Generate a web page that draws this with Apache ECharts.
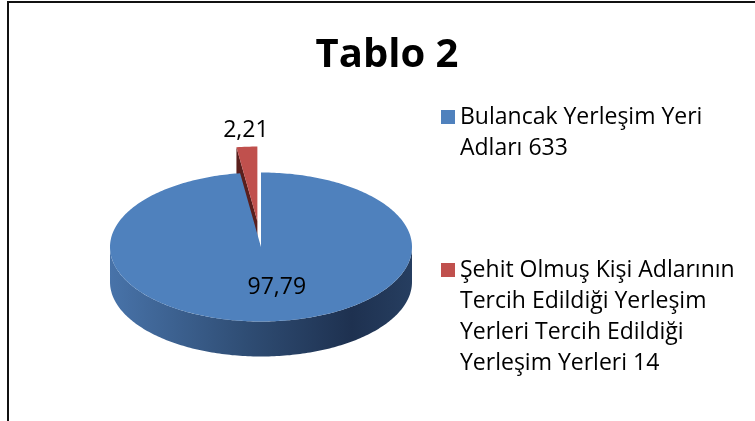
<!DOCTYPE html>
<html lang="tr">
<head>
    <meta charset="UTF-8">
    <title>Tablo 2</title>
    <style>
        body {
            padding: 0;
            margin: 0;
            background-color: #FFFFFF;
            overflow: hidden;
        }
        #main_chart {
            width: 755px;
            height: 421px;
        }
    </style>
</head>
<body>
<div id="main_chart"></div>
<script type="text/javascript" src="https://cdn.jsdelivr.net/npm/echarts@6/dist/echarts.min.js"></script>
<script type="text/javascript">
var categories = [
    'Bulancak Yerleşim Yeri Adları 633',
    'Şehit Olmuş Kişi Adlarının Tercih Edildiği Yerleşim Yerleri Tercih Edildiği Yerleşim Yerleri 14'
];
var legendLines = [
    ['Bulancak Yerleşim Yeri', 'Adları 633'],
    ['Şehit Olmuş Kişi Adlarının', 'Tercih Edildiği Yerleşim', 'Yerleri Tercih Edildiği', 'Yerleşim Yerleri 14']
];
var values = [97.79, 2.21];

// look of the 3d pie
var topColors = ['#4f81bd', '#c0504d'];
var faceColors = ['#2b4a70', '#5a1f1d'];
var explode = [0, 26];
var labelNudge = [[10, 0], [-1, 1]];
var pie = { cx: 261, cy: 247, rx: 151, ry: 74.5, depth: 35 };
var FONT = '"Open Sans", "Noto Sans", sans-serif';

var total = values.reduce(function (s, v) { return s + v; }, 0);
var RAD = Math.PI / 180;

function sliceAngles(i) {
    var before = 0;
    for (var k = 0; k < i; k++) before += values[k];
    var a0 = 90 - 360 * before / total;
    var a1 = 90 - 360 * (before + values[i]) / total;
    return { a0: a0, a1: a1, am: (a0 + a1) / 2 };
}

function wallGradient() {
    return new echarts.graphic.LinearGradient(0, 0, 1, 0, [
        { offset: 0, color: '#4873a9' },
        { offset: 0.45, color: '#2f4d74' },
        { offset: 0.8, color: '#1e3150' },
        { offset: 1, color: '#263e60' }
    ]);
}

function renderSlice(params, api) {
    var i = params.seriesIndex;
    var ang = sliceAngles(i);
    var a0 = ang.a0, a1 = ang.a1, am = ang.am;
    var e = explode[i] / pie.ry;
    var cx = pie.cx + e * pie.rx * Math.cos(am * RAD);
    var cy = pie.cy - e * pie.ry * Math.sin(am * RAD);
    var d = pie.depth;

    function P(a, dy) {
        return [cx + pie.rx * Math.cos(a * RAD), cy - pie.ry * Math.sin(a * RAD) + (dy || 0)];
    }
    function arcAngles(from, to) {
        var n = Math.max(2, Math.ceil(Math.abs(from - to)));
        var out = [];
        for (var s = 0; s <= n; s++) out.push(from + (to - from) * s / n);
        return out;
    }

    var children = [];

    // outer wall, only the part that faces the viewer (angles -180..0)
    for (var k = -2; k <= 1; k++) {
        var lo = Math.max(a1, -180 + 360 * k);
        var hi = Math.min(a0, 0 + 360 * k);
        if (hi - lo > 0.01) {
            var as = arcAngles(hi, lo);
            var pts = as.map(function (a) { return P(a); })
                .concat(as.slice().reverse().map(function (a) { return P(a, d); }));
            children.push({
                type: 'polygon',
                shape: { points: pts },
                style: { fill: i === 0 ? wallGradient() : faceColors[i] }
            });
        }
    }

    // cut faces
    var c = [cx, cy];
    var cd = [cx, cy + d];
    if (Math.cos(a0 * RAD) < -0.001) {
        children.push({
            type: 'polygon',
            shape: { points: [c, P(a0), P(a0, d), cd] },
            style: { fill: faceColors[i] }
        });
    }
    if (Math.cos(a1 * RAD) > 0.001) {
        children.push({
            type: 'polygon',
            shape: { points: [c, P(a1), P(a1, d), cd] },
            style: { fill: faceColors[i] }
        });
    }

    // top face
    var topPts = [c].concat(arcAngles(a0, a1).map(function (a) { return P(a); }));
    children.push({
        type: 'polygon',
        shape: { points: topPts },
        style: { fill: topColors[i] }
    });

    // value label
    var v = api.value(0);
    var lx, ly;
    if (v / total > 0.1) {
        lx = cx + 0.55 * pie.rx * Math.cos(am * RAD);
        ly = cy - 0.55 * pie.ry * Math.sin(am * RAD);
    } else {
        var o = P(am);
        lx = o[0];
        ly = o[1] - 17;
    }
    children.push({
        type: 'text',
        x: lx + labelNudge[i][0],
        y: ly + labelNudge[i][1],
        style: {
            text: v.toFixed(2).replace('.', ','),
            fill: '#000',
            font: '23px ' + FONT,
            align: 'center',
            verticalAlign: 'middle'
        }
    });

    return { type: 'group', children: children };
}

var dom = document.getElementById('main_chart');
var chart = echarts.init(dom);

var option = {
    animation: false,
    title: {
        text: 'Tablo 2',
        left: 387,
        top: 36,
        padding: 0,
        textAlign: 'center',
        textVerticalAlign: 'top',
        textStyle: {
            fontFamily: FONT,
            fontSize: 40,
            fontWeight: 'bold',
            color: '#000'
        }
    },
    graphic: [{
        type: 'rect',
        shape: { x: 8, y: 2, width: 900, height: 600 },
        style: { fill: 'none', stroke: '#111', lineWidth: 2 },
        silent: true
    }],
    legend: legendLines.map(function (lines, i) {
        var lineH = 31;
        var iconY = [117, 270][i];
        return {
            data: [categories[i]],
            orient: 'vertical',
            left: 441,
            top: iconY - (2 * lines.length - 1) * lineH / 2,
            padding: 0,
            icon: 'rect',
            itemWidth: 14,
            itemHeight: 14,
            selectedMode: false,
            formatter: function () {
                return new Array(lines.length).join('\n') + lines.join('\n');
            },
            textStyle: {
                fontFamily: FONT,
                fontSize: 23,
                lineHeight: lineH,
                color: '#000'
            }
        };
    }),
    series: values.map(function (v, i) {
        return {
            type: 'custom',
            name: categories[i],
            coordinateSystem: 'none',
            z: Math.sin(sliceAngles(i).am * RAD) > 0 ? 1 : 2,
            itemStyle: { color: topColors[i] },
            renderItem: renderSlice,
            data: [[v]]
        };
    })
};

chart.setOption(option);
</script>
</body>
</html>
